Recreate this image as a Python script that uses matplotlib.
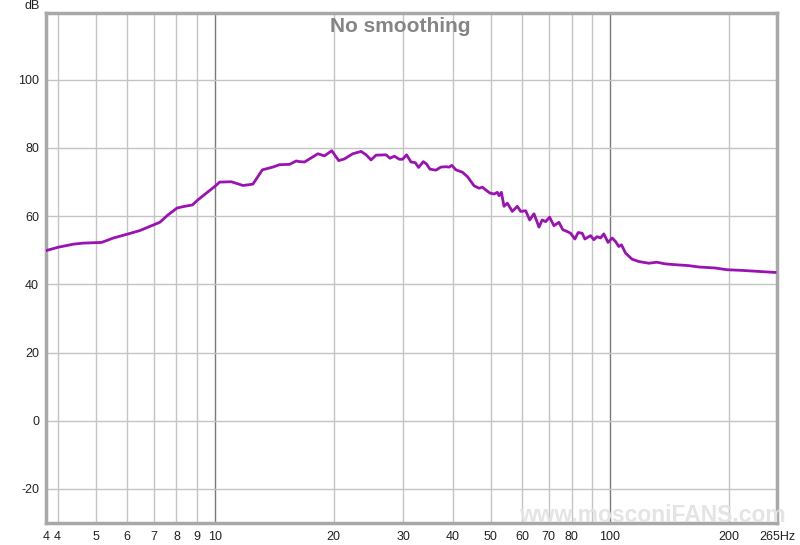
import numpy as np
import matplotlib
matplotlib.use('Agg')
import matplotlib.pyplot as plt

plt.rcParams['font.family'] = ['Liberation Sans', 'DejaVu Sans']

# --- DATI ---
freq_hz = [3.74, 4.02, 4.39, 4.65, 5.17, 5.54, 6.04, 6.47, 6.85, 7.26,
           7.62, 8.03, 8.32, 8.78, 9.07, 9.53, 10.0, 10.29, 11.02, 11.79,
           12.49, 13.20, 14.03, 14.59, 15.47, 16.08, 16.39, 16.88, 18.24, 18.96,
           19.78, 20.60, 21.29, 22.35, 23.47, 24.16, 24.87, 25.60, 27.14, 27.78,
           28.48, 29.32, 29.89, 30.59, 31.39, 32.18, 32.81, 33.72, 34.37, 35.05,
           36.29, 37.36, 38.47, 39.21, 39.84, 40.77, 42.36, 43.61, 45.35, 46.69,
           47.59, 48.54, 49.68, 50.94, 51.93, 52.45, 53.15, 53.99, 55.04, 56.66,
           58.33, 59.50, 61.25, 62.69, 64.29, 66.18, 67.45, 68.80, 70.42, 72.21,
           74.33, 76.08, 78.01, 79.57, 81.58, 83.17, 85.14, 86.48, 89.40, 91.12,
           92.88, 94.74, 96.56, 99.01, 101.35, 103.37, 105.37, 107.04, 109.6, 113.8,
           118.4, 125.5, 131.6, 138.2, 149.4, 158.3, 167.8, 184.9, 197.8, 215.9,
           237.8, 262.0]
spl_db = [49.9, 50.9, 51.8, 52.1, 52.3, 53.6, 54.8, 55.8, 57.0, 58.2,
          60.4, 62.4, 62.8, 63.3, 64.8, 66.8, 68.7, 70.0, 70.1, 69.0,
          69.4, 73.6, 74.4, 75.1, 75.2, 76.2, 76.0, 75.9, 78.3, 77.7,
          79.2, 76.3, 76.8, 78.3, 79.0, 78.0, 76.5, 77.9, 78.0, 77.0,
          77.6, 76.7, 76.7, 78.0, 75.9, 75.7, 74.3, 76.0, 75.3, 73.8,
          73.5, 74.4, 74.5, 74.4, 74.9, 73.6, 72.9, 71.6, 68.9, 68.2,
          68.5, 67.7, 66.8, 66.5, 67.0, 66.0, 67.0, 62.9, 63.8, 61.4,
          62.9, 61.4, 61.6, 58.9, 60.7, 56.8, 58.9, 58.4, 59.7, 57.2,
          58.2, 56.0, 55.5, 55.0, 53.3, 55.2, 55.0, 53.3, 54.3, 53.1,
          54.0, 53.6, 54.8, 52.3, 53.6, 52.6, 51.1, 51.6, 49.2, 47.4,
          46.7, 46.2, 46.5, 46.0, 45.7, 45.5, 45.1, 44.8, 44.3, 44.1,
          43.8, 43.5]

x_min, x_max = 3.74, 265
grid_x = [4, 5, 6, 7, 8, 9, 10, 20, 30, 40, 50, 60, 70, 80, 90, 100, 200]
tick_x = [x_min, 4, 5, 6, 7, 8, 9, 10, 20, 30, 40, 50, 60, 70, 80, 100, 200, 265]
tick_x_labels = ['4', '4', '5', '6', '7', '8', '9', '10', '20', '30', '40',
                 '50', '60', '70', '80', '100', '200', '265Hz']
tick_y = [-20, 0, 20, 40, 60, 80, 100]

# --- GRAFICO ---
fig = plt.figure(figsize=(8, 5.45), dpi=100)
ax = fig.add_axes([46 / 800, 1 - 523 / 545, 731 / 800, 510 / 545])

ax.set_xscale('log')
ax.set_xlim(x_min, x_max)
ax.set_ylim(-30, 119.6)

# griglia stile REW
for gx in grid_x:
    dark = gx in (10, 100)
    ax.axvline(gx, color='#7a7a7a' if dark else '#c4c4c4', lw=1.0, zorder=1)
for gy in tick_y:
    ax.axhline(gy, color='#c4c4c4', lw=1.0, zorder=1)

ax.plot(freq_hz, spl_db, color='#9a12b2', lw=2.0, zorder=3,
        solid_joinstyle='round')

ax.set_xticks(tick_x)
ax.set_xticklabels(tick_x_labels)
ax.xaxis.set_minor_locator(matplotlib.ticker.NullLocator())
ax.set_yticks(tick_y)
ax.set_yticklabels([str(v) for v in tick_y])
ax.tick_params(axis='both', length=0, labelsize=9, colors='#222222')
ax.tick_params(axis='x', pad=6)
ax.tick_params(axis='y', pad=5)

for sp in ax.spines.values():
    sp.set_color('#a8a8a8')
    sp.set_linewidth(2.5)

fig.text(32 / 800, 1 - 6 / 545, 'dB', fontsize=9, color='#222222',
         ha='center', va='center')
fig.text(0.5, 1 - 27 / 545, 'No smoothing', fontsize=15, fontweight='bold',
         color='#858585', ha='center', va='center', zorder=5)

# filigrana
fig.text(652 / 800, 1 - 516 / 545, 'www.mosconiFANS.com', fontsize=16.5,
         fontweight='bold', color='#e4e4e4', ha='center', va='center', zorder=0.5)

fig.savefig('out.png', dpi=100)
